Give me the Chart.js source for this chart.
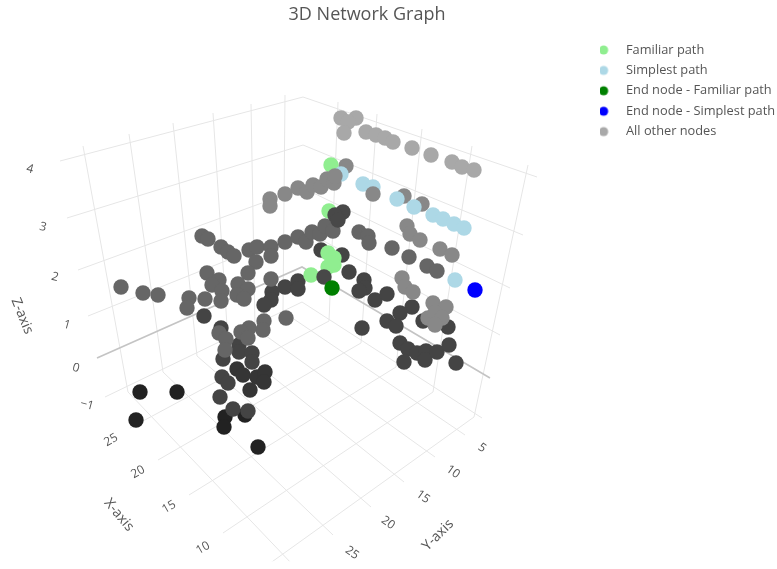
<!DOCTYPE html>
<html><head><meta charset="utf-8">
<style>html,body{margin:0;padding:0;background:#fff}#w{width:777px;height:569px}</style>
<script src="https://cdn.jsdelivr.net/npm/chart.js@4"></script></head>
<body><div id="w"><canvas id="c" width="777" height="569"></canvas></div>
<script>
const titleText = "3D Network Graph";
const legendNames = ["Familiar path","Simplest path","End node - Familiar path","End node - Simplest path","All other nodes"];
const legendColors = ["#90ee90","#add8e6","#008000","#0000ff","#a9a9a9"];

// Positions of the projected nodes
const familiarPath = [[331,165],[329,211],[328,253],[334,258],[328,267],[334,265],[332,263],[311,275]];
const simplestPath = [[341,174],[363,184],[373,187],[397,199],[414,207],[433,215],[443,219],[454,224],[464,228],[455,280]];
const endFamiliar = [[332,288]];
const endSimplest = [[475,290]];

const nodes222 = [[245,415],[225,417],[224,427],[258,447],[140,392],[177,392],[136,420]];
const nodes333 = [[237,369],[243,375],[257,377],[265,372],[264,382],[250,390]];
const nodes444 = [[204,316],[221,328],[223,359],[239,345],[239,352],[252,353],[252,362],[222,377],[228,383],[220,397],[233,409],[248,411],
  [272,292],[271,300],[264,305],[285,287],[298,281],[298,289],[321,250],[342,255],[349,272],[364,280],[365,288],[359,291],[375,300],[387,294],[412,307],[400,313],[387,321],[396,326],[362,328],[423,321],[448,327],[400,343],[408,349],[404,362],[417,353],[426,351],[425,360],[437,352],[449,345],[456,363]];
const nodes666 = [[202,236],[208,239],[221,247],[228,252],[234,256],[249,250],[257,247],[271,247],[271,256],[256,262],[248,273],[285,242],[298,237],[306,242],[312,232],[320,234],[325,226],[333,231],[359,232],[368,236],[369,243],[392,248],[409,257],[427,266],[437,271],
  [207,273],[219,280],[212,285],[222,291],[221,301],[238,284],[248,289],[237,295],[244,299],[271,279],[121,287],[143,293],[158,295],[189,298],[187,308],[205,299],
  [286,318],[264,321],[263,330],[249,328],[241,332],[248,338],[219,333],[226,339],[225,350]];
const nodes888 = [[270,199],[270,206],[285,194],[298,188],[307,192],[313,185],[346,166],[404,196],[422,204],[407,226],[410,234],[420,240],[440,249],[452,255],[402,278],[405,287],[413,292],[433,303],[446,307],[428,318],[435,313],[442,318],[435,325]];
const nodesAAA = [[341,118],[356,118],[348,122],[344,133],[366,132],[376,135],[385,138],[393,142],[412,148],[431,155],[452,162],[462,167],[474,170]];
const shadeTiers = [["#222222",nodes222],["#353535",nodes333],["#444444",nodes444],["#666666",nodes666],["#888888",nodes888],["#a8a8a8",nodesAAA]];

// Nodes that sit in front of the path markers
const frontNodes = [[321,187],[327,179],[334,183],[335,176],[373,194]];
const frontDark = [[343,212],[335,215],[338,220],[324,277]];

// Wall and floor grid segments, pairs of end points
const zGrid = [[[60,161],[303,97],[537,177]],[[67,218],[303,145],[523,235]],[[78,270],[303,188],[510,288]],[[88,316],[303,230],[500,335]],[[105,397],[302,302],[482,418]]];
const zeroLine = [[97,358],[302,267],[490,378]];
const leftVerticals = [[[83,146],[128,392]],[[129,134],[163,372]],[[173,123],[197,356]],[[213,113],[228,341]],[[251,104],[255,328]],[[285,95],[283,311]]];
const rightVerticals = [[[338,102],[329,321]],[[377,114],[361,343]],[[422,129],[396,367]],[[472,146],[433,392]],[[528,165],[474,417]]];
const floorY = [[[282,311],[465,435]],[[255,328],[435,457]],[[228,341],[404,482]],[[197,356],[371,507]],[[163,372],[333,535]],[[128,392],[293,565]]];
const floorX = [[[329,321],[130,428]],[[361,343],[158,460]],[[396,367],[189,495]],[[433,392],[223,533]],[[474,417],[262,569]]];

// Rotated axis labels: text, x, y, angle in degrees
const axisTexts = [
 ["4",30,169,15],["3",43,227,15],["2",55,277,15],["1",67,325,15],["0",76,368,15],["\u22121",87,405,15],
 ["25",111,440,-30],["20",138,472,-30],["15",169,507,-30],["10",203,548,-30],
 ["5",482,448,35],["10",453,472,35],["15",423,497,35],["20",388,523,35],["25",352,553,35]];
const axisTitles = [["Z-axis",22,316,68],["X-axis",119,515,50],["Y-axis",438,535,-45]];

const toPts = a => a.map(p => ({x:p[0],y:p[1]}));
const segs = list => { const o=[]; list.forEach(s=>{ s.forEach(p=>o.push({x:p[0],y:p[1]})); o.push({x:NaN,y:NaN}); }); return o; };
const otherPts=[], otherCols=[];
shadeTiers.forEach(([c,a])=>a.forEach(p=>{otherPts.push({x:p[0],y:p[1]});otherCols.push(c);}));

function swatch(color){
  const cv=document.createElement('canvas');cv.width=52;cv.height=14;
  const g=cv.getContext('2d');g.fillStyle=color;g.beginPath();g.arc(26-10,7,4.6,0,Math.PI*2);g.fill();
  return cv;
}
const pad = {
  id:'pixelFit',
  afterLayout(ch){
    const x=ch.scales.x,y=ch.scales.y;
    x.min=x.left;x.max=x.right;x.configure();
    y.min=y.top;y.max=y.bottom;y.configure();
    ch.titleBlock.left=0;ch.titleBlock.right=734;
    ch.legend.left=600;ch.legend.right=777;ch.legend.top=36;ch.legend.bottom=200;
  },
  afterDatasetsDraw(ch){
    const g=ch.ctx;g.save();g.textAlign='center';g.textBaseline='middle';
    const put=(t,f,col)=>{g.save();g.translate(t[1],t[2]);g.rotate(t[3]*Math.PI/180);g.font=f;g.fillStyle=col;g.fillText(t[0],0,0);g.restore();};
    axisTexts.forEach(t=>put(t,'12px "Open Sans"','#555'));
    axisTitles.forEach(t=>put(t,'14px "Open Sans"','#555'));
    g.restore();
  }
};
const mk=(label,pts,col,extra)=>Object.assign({label,data:toPts(pts),backgroundColor:col,pointBackgroundColor:col,pointRadius:7.7,pointBorderWidth:0,pointHoverRadius:7.7,showLine:false},extra||{});
const line=(label,data,col,w)=>({label,data,borderColor:col,borderWidth:w,showLine:true,pointRadius:0,spanGaps:false,fill:false});

new Chart(document.getElementById('c'),{
  type:'scatter',
  plugins:[pad],
  data:{datasets:[
    mk("End node - Simplest path",endSimplest,legendColors[3]),
    mk("End node - Familiar path",endFamiliar,legendColors[2]),
    mk("front dark",frontDark,"#484848"),
    mk("front",frontNodes,"#888888"),
    mk("Simplest path",simplestPath,legendColors[1]),
    mk("Familiar path",familiarPath,legendColors[0]),
    {label:"All other nodes",data:otherPts,backgroundColor:"#a9a9a9",pointBackgroundColor:otherCols,pointRadius:7.7,pointBorderWidth:0,pointHoverRadius:7.7,showLine:false},
    line("zero",toPts(zeroLine),"#c4c4c4",1.6),
    line("grid",segs(zGrid.concat(leftVerticals,rightVerticals,floorY,floorX)),"#e6e6e6",1)
  ]},
  options:{
    responsive:false,animation:false,
    layout:{padding:0},
    scales:{
      x:{type:'linear',display:false,min:0,max:600},
      y:{type:'linear',display:false,reverse:true,min:0,max:569}
    },
    plugins:{
      tooltip:{enabled:false},
      title:{display:true,text:titleText,color:'#555',font:{family:'"Open Sans"',size:18,weight:'normal'},padding:{top:4,bottom:10}},
      legend:{display:true,position:'right',align:'start',
        labels:{usePointStyle:true,font:{family:'"Open Sans"',size:12.8},color:'#555',padding:7.6,boxWidth:12,boxHeight:12,
          generateLabels(){return legendNames.map((n,i)=>({text:n,fillStyle:legendColors[i],strokeStyle:'rgba(0,0,0,0)',lineWidth:0,pointStyle:swatch(legendColors[i]),fontColor:'#555',hidden:false,datasetIndex:i}));}
        }}
    }
  }
});
</script></body></html>
